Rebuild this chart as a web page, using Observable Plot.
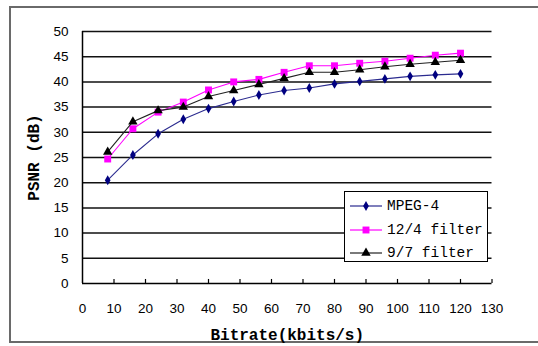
<!DOCTYPE html>
<html>
<head>
<meta charset="utf-8">
<script src="https://cdn.jsdelivr.net/npm/d3@7"></script>
<script src="https://cdn.jsdelivr.net/npm/@observablehq/plot@0.6"></script>
<style>
  html, body { margin: 0; padding: 0; background: #fff; overflow: hidden; }
  #wrap { position: relative; width: 538px; height: 346px; }
  #frame { position: absolute; left: 9px; top: 6px; width: 540px; height: 337px; border: 2px solid #6a6a6a; box-sizing: border-box; }
  #chart { position: absolute; left: 0; top: 0; }
  #legend { position: absolute; left: 344px; top: 191px; width: 144px; height: 71px; box-sizing: border-box;
            border: 1px solid #000; background: #fff; font-family: "Liberation Mono", monospace; font-size: 14.5px; }
  .entry { position: absolute; left: 4px; height: 20px; display: flex; align-items: center; }
  .entry svg { margin-right: 4px; }
</style>
</head>
<body>
<div id="wrap">
  <div id="frame"></div>
  <div id="chart"></div>
  <div id="legend"></div>
</div>
<script>
const bitrate = [8, 16, 24, 32, 40, 48, 56, 64, 72, 80, 88, 96, 104, 112, 120];
const mpeg4   = [20.5, 25.5, 29.7, 32.6, 34.7, 36.1, 37.4, 38.3, 38.8, 39.6, 40.1, 40.6, 41.1, 41.4, 41.6];
const filter124 = [24.7, 30.7, 34.0, 36.0, 38.4, 40.0, 40.5, 41.9, 43.2, 43.2, 43.7, 44.1, 44.7, 45.3, 45.7];
const filter97  = [26.1, 32.1, 34.3, 35.0, 37.1, 38.3, 39.5, 40.7, 41.9, 41.9, 42.4, 43.0, 43.5, 43.9, 44.3];
const seriesNames = ["MPEG-4", "12/4 filter", "9/7 filter"];
const xTicks = [0, 10, 20, 30, 40, 50, 60, 70, 80, 90, 100, 110, 120, 130];
const yTicks = [0, 5, 10, 15, 20, 25, 30, 35, 40, 45, 50];

const styles = {
  "MPEG-4":      {line: "#2b2b8f", fill: "#000080", symbol: "diamond", r: 3.0},
  "12/4 filter": {line: "#ff00ff", fill: "#ff00ff", symbol: "square", r: 3.9},
  "9/7 filter":  {line: "#222222", fill: "#000000", symbol: "triangle", r: 3.5}
};
const seriesValues = [mpeg4, filter124, filter97];
const data = seriesNames.flatMap((name, i) => bitrate.map((b, j) => ({series: name, x: b, y: seriesValues[i][j]})));

const marks = [
  Plot.ruleY(yTicks.filter(d => d > 0), {stroke: "#111", strokeWidth: 1.5}),
  Plot.ruleX([0], {stroke: "#000", strokeWidth: 1.5}),
  Plot.ruleY([0], {stroke: "#000", strokeWidth: 1.5}),
  Plot.ruleX(xTicks.filter(d => d > 0), {y1: 0, y2: 0.8, stroke: "#000", strokeWidth: 1.2}),
];
for (const name of seriesNames) {
  const s = styles[name];
  const sub = data.filter(d => d.series === name);
  marks.push(Plot.line(sub, {x: "x", y: "y", stroke: s.line, strokeWidth: 1.1}));
  marks.push(Plot.dot(sub, {x: "x", y: "y", symbol: () => s.symbol, r: s.r, fill: s.fill, stroke: "none"}));
}
marks.push(
  Plot.axisX(xTicks, {tickSize: 0, tickPadding: 20, fontSize: 13.5, fontFamily: "Liberation Sans, Arial, sans-serif", label: null}),
  Plot.axisY(yTicks, {tickSize: 0, tickPadding: 14, fontSize: 13.5, fontFamily: "Liberation Sans, Arial, sans-serif", label: null}),
  Plot.text(["Bitrate(kbits/s)"], {frameAnchor: "bottom", dy: 51, lineAnchor: "middle", text: d => d,
    fontSize: 16, fontWeight: "bold", fontFamily: "Liberation Mono, monospace", fill: "#000"}),
  Plot.text(["PSNR (dB)"], {frameAnchor: "left", dx: -49, rotate: -90, text: d => d, textAnchor: "middle",
    fontSize: 16, fontWeight: "bold", fontFamily: "Liberation Mono, monospace", fill: "#000"})
);

const chart = Plot.plot({
  width: 538, height: 346,
  marginLeft: 82, marginRight: 46.5, marginTop: 31, marginBottom: 63,
  x: {domain: [0, 130]},
  y: {domain: [0, 50]},
  style: {background: "transparent", color: "#000"},
  marks
});
document.getElementById("chart").appendChild(chart);

// legend
const legend = document.getElementById("legend");
seriesNames.forEach((name, i) => {
  const s = styles[name];
  const e = document.createElement("div");
  e.className = "entry";
  e.style.top = (4 + i * 23.5) + "px";
  const sym = d3.symbol(name === "MPEG-4" ? d3.symbolDiamond : name === "12/4 filter" ? d3.symbolSquare : d3.symbolTriangle, Math.PI * s.r * s.r)();
  e.innerHTML = `<svg width="34" height="14"><line x1="1" x2="33" y1="7" y2="7" stroke="${s.line}" stroke-width="1.2"/><path transform="translate(17,7)" d="${sym}" fill="${s.fill}"/></svg><span>${name}</span>`;
  legend.appendChild(e);
});
</script>
</body>
</html>
